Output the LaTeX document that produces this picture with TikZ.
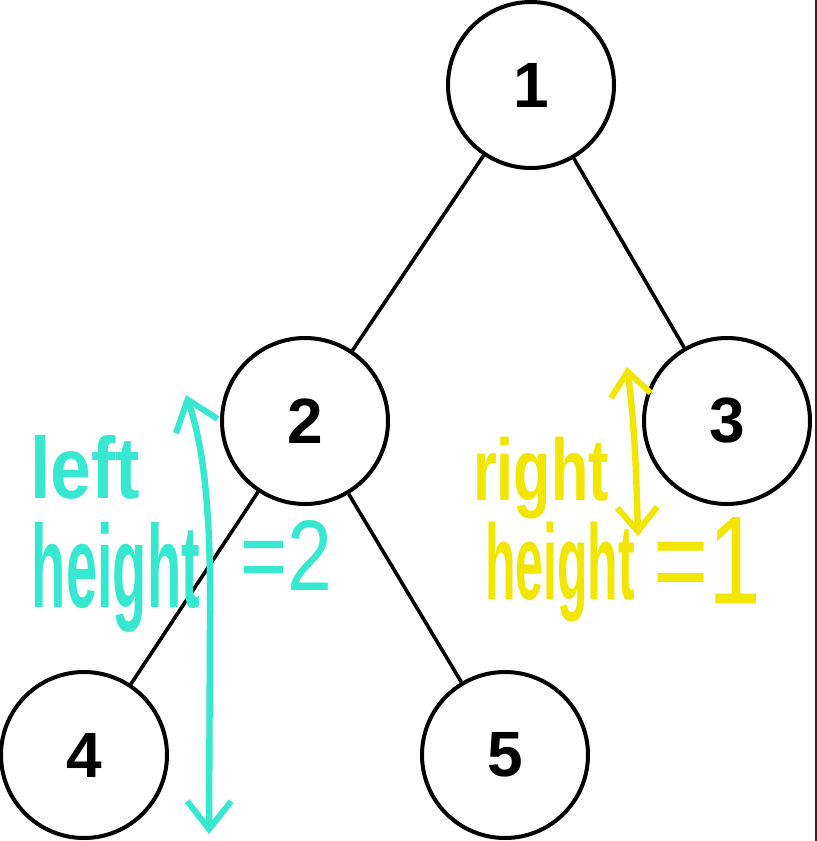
\documentclass[tikz,border=0pt]{standalone}
\usepackage{fontspec}
\setmainfont{Liberation Sans}
\newfontfamily\handfont{Liberation Sans}
\usetikzlibrary{arrows.meta}
\definecolor{cyanhand}{RGB}{54,232,208}
\definecolor{yellowhand}{RGB}{242,230,0}
\definecolor{edgegrey}{RGB}{43,43,43}
\tikzset{
  treenode/.style={circle,draw=black,line width=2pt,minimum size=83pt,inner sep=0pt,
    font=\fontsize{32}{38}\selectfont\bfseries},
  treeedge/.style={draw=black,line width=1.8pt},
  handtext/.style={inner sep=0pt,outer sep=0pt,anchor=north west},
  cyanarrow/.style={draw=cyanhand,line width=3.2pt,line cap=round,
    {Straight Barb[length=14pt,width=22pt,line width=3pt]}-{Straight Barb[length=14pt,width=22pt,line width=3pt]}},
  yellowarrow/.style={draw=yellowhand,line width=3.2pt,line cap=round,
    {Straight Barb[length=12pt,width=20pt,line width=3pt]}-{Straight Barb[length=12pt,width=20pt,line width=3pt]}}
}
\begin{document}
\begin{tikzpicture}[x=0.5pt,y=-0.5pt]
\useasboundingbox (0,0) rectangle (817,841);
\fill[white] (0,0) rectangle (817,841);
\fill[edgegrey] (814.5,0) rectangle (817,841);
% tree nodes
\node[treenode] (n1) at (531,85) {1};
\node[treenode] (n2) at (305,421) {2};
\node[treenode] (n3) at (727,421) {3};
\node[treenode] (n4) at (84,755) {4};
\node[treenode] (n5) at (505,755) {5};
\draw[treeedge] (n1) -- (n2);
\draw[treeedge] (n1) -- (n3);
\draw[treeedge] (n2) -- (n4);
\draw[treeedge] (n2) -- (n5);
% cyan annotation
\coordinate (ctop) at (186,395);
\coordinate (cbot) at (209,834);
\draw[cyanarrow] (ctop) .. controls (205,450) and (211,520) .. (210,620) -- (cbot);
\node[handtext,text=cyanhand] (lefttxt) at (30,435)
  {\resizebox*{55pt}{32pt}{\handfont\bfseries left}};
\node[handtext,text=cyanhand] (lheight) at (32,522)
  {\resizebox*{84pt}{55pt}{\handfont\bfseries height}};
\node[handtext,text=cyanhand] (leq) at (240,520)
  {\resizebox*{46pt}{35pt}{\handfont =2}};
% yellow annotation
\coordinate (ytop) at (627,367);
\coordinate (ybot) at (638,536);
\draw[yellowarrow] (ytop) .. controls (634,420) and (636,460) .. (ybot);
\node[handtext,text=yellowhand] (righttxt) at (473,437)
  {\resizebox*{68pt}{41pt}{\handfont\bfseries right}};
\node[handtext,text=yellowhand] (rheight) at (485,522)
  {\resizebox*{75pt}{50pt}{\handfont\bfseries height}};
\node[handtext,text=yellowhand] (req) at (653,517)
  {\resizebox*{54pt}{43pt}{\handfont =1}};
\end{tikzpicture}
\end{document}
